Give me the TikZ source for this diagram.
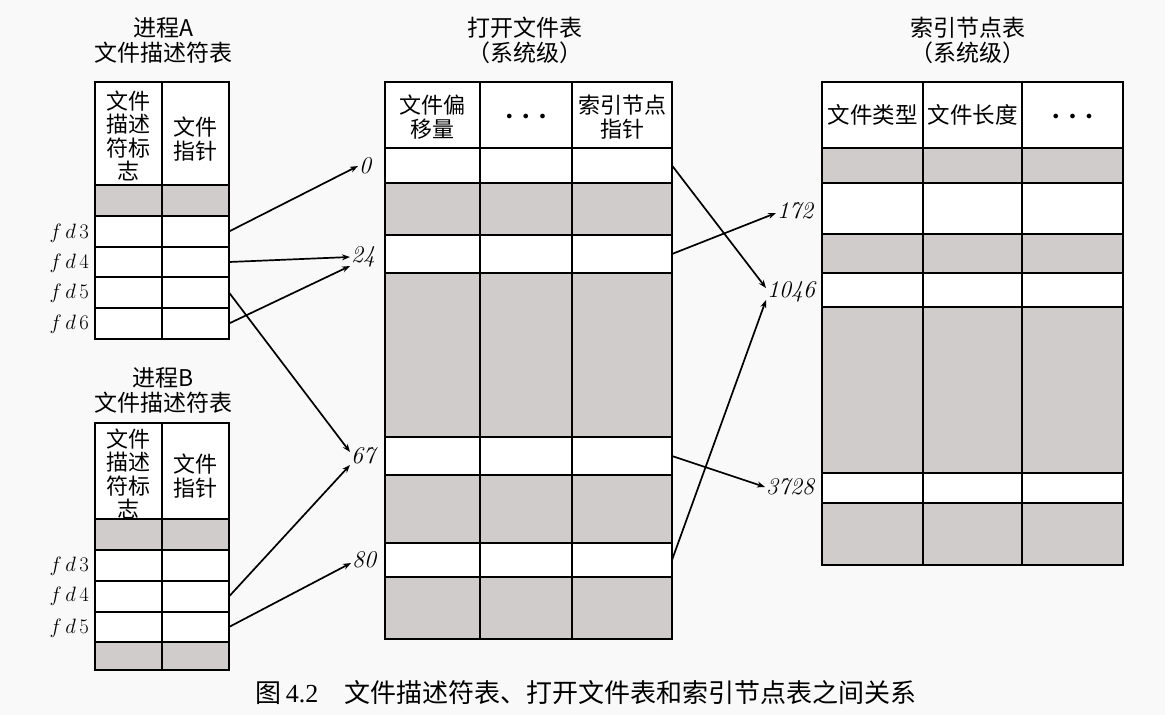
\documentclass[tikz,border=0pt]{standalone}
\usepackage{fontspec}
\newfontfamily\cjk{Noto Sans CJK SC}
\newfontfamily\capserif{Liberation Serif}
\usetikzlibrary{arrows.meta}
\definecolor{bgc}{RGB}{249,249,249}
\definecolor{cellgray}{RGB}{208,204,204}
\tikzset{
  cellbox/.style={draw=black, line width=2pt, inner sep=0pt, outer sep=0pt},
  hdr/.style={font=\cjk\fontsize{22}{23.5}\selectfont, align=center, inner sep=0pt},
  ttl/.style={font=\cjk\fontsize{23}{25}\selectfont, align=center, inner sep=0pt},
  fdlab/.style={font=\fontsize{22}{22}\selectfont, anchor=east, inner sep=1pt},
  numlab/.style={font=\fontsize{24}{24}\selectfont\itshape, anchor=west, inner sep=1pt},
  ptr/.style={line width=1.7pt, -{Stealth[length=8pt,width=6pt]}},
  dots/.style={font=\fontsize{13}{13}\selectfont, inner sep=0pt}
}
\newcommand{\tcell}[6]{\node[cellbox,fill=#6,minimum width={(#4)-(#2)},minimum height={(#5)-(#3)}] (#1) at ({((#2)+(#4))/2},{((#3)+(#5))/2}) {};}
\newcommand{\threedots}{$\bullet\hspace{8pt}\bullet\hspace{8pt}\bullet$}
\begin{document}
\begin{tikzpicture}[x=1pt,y=-1pt]
\path[use as bounding box, fill=bgc] (0,0) rectangle (1165,715);

% ---------- Process A table ----------
\node[ttl] (titleA) at (163,40) {进程A\\文件描述符表};
\foreach \n/\ya/\yb/\f in {h/82/185/white, g/185/216/cellgray, 3/216/247/white, 4/247/277/white, 5/277/308/white, 6/308/339/white}{
  \tcell{A\n-l}{95}{\ya}{162}{\yb}{\f}
  \tcell{A\n-p}{162}{\ya}{229}{\yb}{\f}
}
\node[hdr] (Ahl) at (128.5,136) {文件\\描述\\符标\\志};
\node[hdr] (Ahp) at (195.5,139) {文件\\指针};
\node[fdlab] (fdA3) at (90,233) {$f\,d\,3$};
\node[fdlab] (fdA4) at (90,263) {$f\,d\,4$};
\node[fdlab] (fdA5) at (90,293) {$f\,d\,5$};
\node[fdlab] (fdA6) at (90,324) {$f\,d\,6$};

% ---------- Process B table ----------
\node[ttl] (titleB) at (163,390) {进程B\\文件描述符表};
\foreach \n/\ya/\yb/\f in {h/423/519/white, g/519/550/cellgray, 3/550/581/white, 4/581/612/white, 5/612/642/white, g2/642/670/cellgray}{
  \tcell{B\n-l}{95}{\ya}{162}{\yb}{\f}
  \tcell{B\n-p}{162}{\ya}{229}{\yb}{\f}
}
\node[hdr] (Bhl) at (128.5,474) {文件\\描述\\符标\\志};
\node[hdr] (Bhp) at (195.5,476) {文件\\指针};
\node[fdlab] (fdB3) at (90,566) {$f\,d\,3$};
\node[fdlab] (fdB4) at (90,596) {$f\,d\,4$};
\node[fdlab] (fdB5) at (90,628) {$f\,d\,5$};

% ---------- Open file table ----------
\node[ttl] (titleM) at (525,40) {打开文件表\\（系统级）};
\foreach \n/\ya/\yb/\f in {h/82/148/white, r0/148/183/white, g1/183/235/cellgray, r24/235/273/white, g2/273/437/cellgray, r67/437/475/white, g3/475/543/cellgray, r80/543/577/white, g4/577/639/cellgray}{
  \tcell{M\n-a}{385}{\ya}{480}{\yb}{\f}
  \tcell{M\n-b}{480}{\ya}{572}{\yb}{\f}
  \tcell{M\n-c}{572}{\ya}{672}{\yb}{\f}
}
\node[hdr] (Mha) at (432.5,117) {文件偏\\移量};
\node[dots] (Mhb) at (526,117) {\threedots};
\node[hdr] (Mhc) at (622,117) {索引节点\\指针};

% ---------- Inode table ----------
\node[ttl] (titleR) at (968,40) {索引节点表\\（系统级）};
\foreach \n/\ya/\yb/\f in {h/82/148/white, g1/148/183/cellgray, w1/183/234/white, g2/234/273/cellgray, w2/273/307/white, g3/307/473/cellgray, w3/473/503/white, g4/503/565/cellgray}{
  \tcell{R\n-a}{822}{\ya}{923}{\yb}{\f}
  \tcell{R\n-b}{923}{\ya}{1022}{\yb}{\f}
  \tcell{R\n-c}{1022}{\ya}{1123}{\yb}{\f}
}
\node[hdr, font=\cjk\fontsize{22.5}{24}\selectfont] (Rha) at (872.5,115) {文件类型};
\node[hdr, font=\cjk\fontsize{22.5}{24}\selectfont] (Rhb) at (972.5,115) {文件长度};
\node[dots] (Rhc) at (1072.5,117) {\threedots};

% ---------- offset labels ----------
\node[numlab] (n0) at (358,166) {0};
\node[numlab] (n24) at (350,257) {24};
\node[numlab] (n67) at (350,456) {67};
\node[numlab] (n80) at (351,560) {80};
\node[numlab] (n172) at (776,211) {172};
\node[numlab] (n1046) at (766,292) {1046};
\node[numlab] (n3728) at (765,487) {3728};

% ---------- pointers ----------
\draw[ptr] (A3-p.east) -- (n0.west);
\draw[ptr] (A4-p.east) -- (n24.west);
\draw[ptr] (A6-p.east) -- ([yshift=-9pt]n24.west);
\draw[ptr] (A5-p.east) -- ([yshift=4pt]n67.west);
\draw[ptr] (B4-p.east) -- ([yshift=-9pt]n67.west);
\draw[ptr] (B5-p.east) -- ([yshift=-3pt]n80.west);
\draw[ptr] (Mr0-c.east) -- ([yshift=4pt]n1046.west);
\draw[ptr] (Mr24-c.east) -- ([yshift=-2pt]n172.west);
\draw[ptr] (Mr67-c.east) -- (n3728.west);
\draw[ptr] (Mr80-c.east) -- ([yshift=-8pt]n1046.west);

% ---------- caption ----------
\node[inner sep=0pt, font=\fontsize{26}{26}\selectfont] (caption) at (586,693) {{\cjk 图}\,{\capserif 4.2}\hspace{26pt}{\cjk 文件描述符表、打开文件表和索引节点表之间关系}};
\end{tikzpicture}
\end{document}
